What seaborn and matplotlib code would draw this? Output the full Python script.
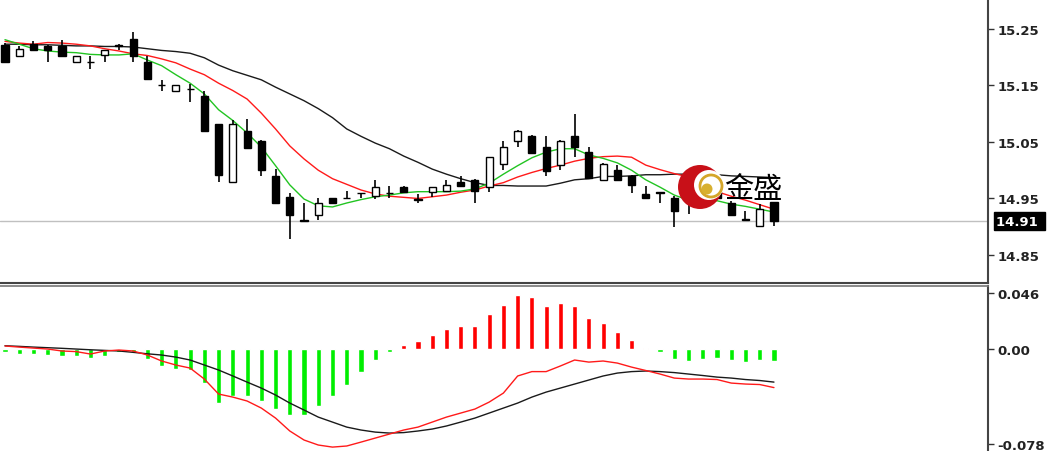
import numpy as np
import pandas as pd
import matplotlib
matplotlib.use("Agg")
import matplotlib.pyplot as plt
import seaborn as sns
from matplotlib.patches import Ellipse

# candles (55 bars)
opens = [15.222, 15.202, 15.224, 15.220, 15.220, 15.192, 15.192, 15.204, 15.221, 15.232,
         15.192, 15.151, 15.141, 15.144, 15.132, 15.082, 14.980, 15.070, 15.052, 14.990,
         14.952, 14.912, 14.921, 14.951, 14.951, 14.960, 14.954, 14.960, 14.971, 14.949,
         14.962, 14.963, 14.980, 14.982, 14.970, 15.011, 15.052, 15.061, 15.041, 15.009,
         15.061, 15.033, 14.982, 15.001, 14.990, 14.958, 14.961, 14.950, 14.950, 14.958,
         14.961, 14.942, 14.913, 14.901, 14.943]
highs = [15.226, 15.220, 15.229, 15.222, 15.231, 15.203, 15.203, 15.212, 15.224, 15.244,
         15.203, 15.160, 15.150, 15.153, 15.140, 15.082, 15.088, 15.091, 15.053, 15.002,
         14.960, 14.942, 14.950, 14.951, 14.964, 14.960, 14.982, 14.972, 14.972, 14.958,
         14.971, 14.982, 14.989, 14.984, 15.024, 15.052, 15.071, 15.062, 15.061, 15.053,
         15.100, 15.041, 15.012, 15.010, 14.991, 14.972, 14.962, 14.955, 14.952, 14.960,
         14.962, 14.946, 14.928, 14.940, 14.944]
lows = [15.190, 15.202, 15.211, 15.192, 15.201, 15.191, 15.179, 15.192, 15.212, 15.191,
        15.161, 15.141, 15.140, 15.120, 15.069, 14.980, 14.979, 15.038, 14.989, 14.941,
        14.878, 14.911, 14.912, 14.942, 14.950, 14.951, 14.949, 14.950, 14.961, 14.942,
        14.953, 14.962, 14.971, 14.942, 14.961, 15.001, 15.041, 15.030, 14.990, 15.001,
        15.023, 14.985, 14.981, 14.981, 14.960, 14.949, 14.942, 14.899, 14.923, 14.949,
        14.949, 14.920, 14.912, 14.900, 14.901]
closes = [15.191, 15.215, 15.212, 15.212, 15.202, 15.202, 15.191, 15.212, 15.220, 15.203,
          15.162, 15.150, 15.150, 15.143, 15.070, 14.992, 15.082, 15.039, 15.001, 14.942,
          14.920, 14.911, 14.942, 14.942, 14.950, 14.959, 14.970, 14.959, 14.962, 14.948,
          14.970, 14.973, 14.972, 14.963, 15.023, 15.041, 15.070, 15.031, 14.999, 15.052,
          15.041, 14.986, 15.011, 14.982, 14.973, 14.950, 14.960, 14.927, 14.946, 14.950,
          14.950, 14.921, 14.912, 14.931, 14.911]

# moving averages on the price panel
ma_fast = [15.231, 15.223, 15.215, 15.211, 15.209, 15.208, 15.205, 15.204, 15.204, 15.206,
           15.195, 15.185, 15.169, 15.154, 15.135, 15.107, 15.088, 15.066, 15.041, 15.008,
           14.974, 14.949, 14.937, 14.935, 14.942, 14.948, 14.953, 14.956, 14.960, 14.962,
           14.962, 14.962, 14.963, 14.967, 14.977, 14.993, 15.008, 15.022, 15.032, 15.038,
           15.038, 15.027, 15.021, 15.013, 15.000, 14.983, 14.970, 14.956, 14.947, 14.944,
           14.946, 14.940, 14.936, 14.931, 14.926]
ma_mid = [15.228, 15.225, 15.223, 15.226, 15.225, 15.223, 15.220, 15.215, 15.211, 15.206,
          15.203, 15.197, 15.190, 15.179, 15.169, 15.154, 15.141, 15.126, 15.101, 15.073,
          15.043, 15.020, 15.000, 14.985, 14.975, 14.965, 14.958, 14.954, 14.952, 14.950,
          14.953, 14.956, 14.961, 14.965, 14.972, 14.978, 14.988, 14.996, 15.003, 15.009,
          15.016, 15.021, 15.024, 15.025, 15.023, 15.009, 15.001, 14.994, 14.988, 14.976,
          14.962, 14.954, 14.947, 14.939, 14.931]
ma_slow = [15.223, 15.223, 15.222, 15.222, 15.221, 15.220, 15.220, 15.219, 15.219, 15.218,
           15.215, 15.212, 15.210, 15.207, 15.199, 15.186, 15.176, 15.168, 15.160, 15.147,
           15.135, 15.123, 15.109, 15.093, 15.073, 15.060, 15.048, 15.038, 15.025, 15.014,
           15.002, 14.993, 14.985, 14.978, 14.973, 14.973, 14.972, 14.972, 14.972, 14.977,
           14.983, 14.985, 14.989, 14.989, 14.990, 14.992, 14.992, 14.993, 14.993, 14.993,
           14.992, 14.990, 14.989, 14.988, 14.987]

# MACD panel
macd_hist = [-0.0027, -0.0041, -0.0041, -0.0049, -0.0060, -0.0060, -0.0076, -0.0060, -0.0022, -0.0022,
             -0.0082, -0.0142, -0.0164, -0.0170, -0.0279, -0.0443, -0.0388, -0.0388, -0.0424, -0.0492,
             -0.0541, -0.0541, -0.0465, -0.0388, -0.0295, -0.0186, -0.0090, -0.0027, 0.0033, 0.0063,
             0.0117, 0.0162, 0.0191, 0.0191, 0.0289, 0.0361, 0.0445, 0.0424, 0.0350, 0.0375,
             0.0350, 0.0254, 0.0213, 0.0137, 0.0074, 0.0006, -0.0022, -0.0082, -0.0101, -0.0082,
             -0.0076, -0.0090, -0.0109, -0.0090, -0.0096]
macd_red = [0.0025, 0.0016, 0.0008, 0.0000, -0.0016, -0.0021, -0.0041, -0.0016, -0.0008, -0.0016,
            -0.0049, -0.0098, -0.0131, -0.0156, -0.0246, -0.0369, -0.0394, -0.0426, -0.0484, -0.0566,
            -0.0672, -0.0746, -0.0787, -0.0804, -0.0795, -0.0763, -0.0730, -0.0697, -0.0664, -0.0640,
            -0.0599, -0.0558, -0.0525, -0.0492, -0.0435, -0.0361, -0.0221, -0.0185, -0.0185, -0.0139,
            -0.0090, -0.0107, -0.0098, -0.0115, -0.0148, -0.0176, -0.0205, -0.0238, -0.0246, -0.0246,
            -0.0250, -0.0279, -0.0287, -0.0291, -0.0316]
macd_black = [0.0027, 0.0022, 0.0016, 0.0011, 0.0006, 0.0000, -0.0006, -0.0011, -0.0016, -0.0027,
              -0.0039, -0.0049, -0.0066, -0.0090, -0.0131, -0.0172, -0.0221, -0.0271, -0.0320, -0.0377,
              -0.0443, -0.0500, -0.0558, -0.0599, -0.0640, -0.0664, -0.0681, -0.0689, -0.0685, -0.0672,
              -0.0656, -0.0631, -0.0599, -0.0566, -0.0525, -0.0484, -0.0443, -0.0394, -0.0353, -0.0320,
              -0.0287, -0.0254, -0.0221, -0.0197, -0.0185, -0.0180, -0.0185, -0.0193, -0.0205, -0.0217,
              -0.0230, -0.0238, -0.0250, -0.0258, -0.0271]

price_ticks = [15.25, 15.15, 15.05, 14.95, 14.85]
macd_ticks = [0.046, 0.0, -0.078]
macd_labels = ["0.046", "0.00", "-0.078"]
last_price = 14.91

sns.set_style("white")
plt.rcParams['font.family'] = ['DejaVu Sans']

df = pd.DataFrame({"open": opens, "high": highs, "low": lows, "close": closes})
df["bar"] = np.arange(len(df))
df["bull"] = df["close"] > df["open"]
bodylo = df[["open", "close"]].min(axis=1)
bodyhi = df[["open", "close"]].max(axis=1)
bodyh = (bodyhi - bodylo).clip(lower=0.0004)

W, H = 1048, 452
fig = plt.figure(figsize=(W / 100, H / 100), dpi=100)
ax1 = fig.add_axes([0, 168 / H, 988 / W, 284 / H])
ax2 = fig.add_axes([0, 0, 988 / W, 165 / H])

xlim = (-0.35, 69.03)

# ---- price panel
ax1.axhline(last_price, color="#c0c0c0", lw=1, zorder=1)
sns.lineplot(x=df["bar"], y=ma_slow, ax=ax1, color="#1a1a1a", lw=1, zorder=2)
sns.lineplot(x=df["bar"], y=ma_mid, ax=ax1, color="#ff1a1a", lw=1, zorder=2)
sns.lineplot(x=df["bar"], y=ma_fast, ax=ax1, color="#22c422", lw=1, zorder=2)
ax1.vlines(df["bar"], df["low"], df["high"], color="black", lw=1.2, zorder=3)
ax1.bar(df["bar"], bodyh, bottom=bodylo, width=0.5,
        color=np.where(df["bull"], "white", "black"), edgecolor="black", lw=1, zorder=4)

ax1.set_xlim(*xlim)
ax1.set_ylim(14.8004, 15.303)
ax1.set_yticks(price_ticks)
ax1.set_yticklabels([f"{t:.2f}" for t in price_ticks])
ax1.text(1.008, last_price, f"{last_price:.2f} ", transform=ax1.get_yaxis_transform(),
         ha="left", va="center", color="white", fontsize=9.5, fontweight="bold",
         bbox=dict(boxstyle="square,pad=0.18", fc="black", ec="black"))

# ---- MACD panel
hist_df = pd.DataFrame({"bar": df["bar"], "v": macd_hist,
                        "sign": np.where(np.array(macd_hist) >= 0, "up", "down")})
sns.barplot(data=hist_df, x="bar", y="v", hue="sign", native_scale=True, dodge=False,
            palette={"up": "#ff0000", "down": "#00ee00"}, saturation=1, width=0.36,
            legend=False, ax=ax2, zorder=2)
sns.lineplot(x=df["bar"], y=macd_black, ax=ax2, color="#1a1a1a", lw=1, zorder=3)
sns.lineplot(x=df["bar"], y=macd_red, ax=ax2, color="#ff1a1a", lw=1, zorder=3)
ax2.set_xlim(*xlim)
ax2.set_ylim(-0.0836, 0.0517)
ax2.set_yticks(macd_ticks)
ax2.set_yticklabels(macd_labels)

for ax in (ax1, ax2):
    ax.set_xlabel("")
    ax.set_ylabel("")
    ax.set_xticks([])
    ax.yaxis.tick_right()
    ax.tick_params(axis="y", direction="out", length=4, width=1, color="#333333",
                   labelsize=9.5, labelcolor="#222222", pad=3)
    for lab in ax.get_yticklabels():
        lab.set_fontweight("bold")
    for s in ax.spines.values():
        s.set_visible(False)
    ax.spines["right"].set_visible(True)
    ax.spines["right"].set_color("#444444")
    ax.spines["right"].set_linewidth(1.5)

ax1.spines["bottom"].set_visible(True)
ax1.spines["bottom"].set_color("#444444")
ax1.spines["bottom"].set_linewidth(1.5)
ax2.spines["top"].set_visible(True)
ax2.spines["top"].set_color("#777777")
ax2.spines["top"].set_linewidth(1.2)

# watermark logo
def fx(px):
    return px / W

def fy(py):
    return 1 - py / H

fig.add_artist(Ellipse((fx(700), fy(188)), 44 / W, 44 / H, fc="#c81018", ec="none", zorder=10))
fig.add_artist(Ellipse((fx(709), fy(186)), 30 / W, 30 / H, fc="white", ec="none", zorder=11))
fig.add_artist(Ellipse((fx(711), fy(187)), 22 / W, 22 / H, fc="none", ec="#d4a62a", lw=2, zorder=12))
fig.add_artist(Ellipse((fx(707), fy(190)), 11 / W, 11 / H, fc="#d8b030", ec="none", zorder=13))
fig.text(fx(724), fy(190), "金盛", family=["Noto Sans CJK SC", "DejaVu Sans"],
         fontsize=21, color="black", ha="left", va="center", zorder=14)

fig.savefig("out.png", dpi=100)
